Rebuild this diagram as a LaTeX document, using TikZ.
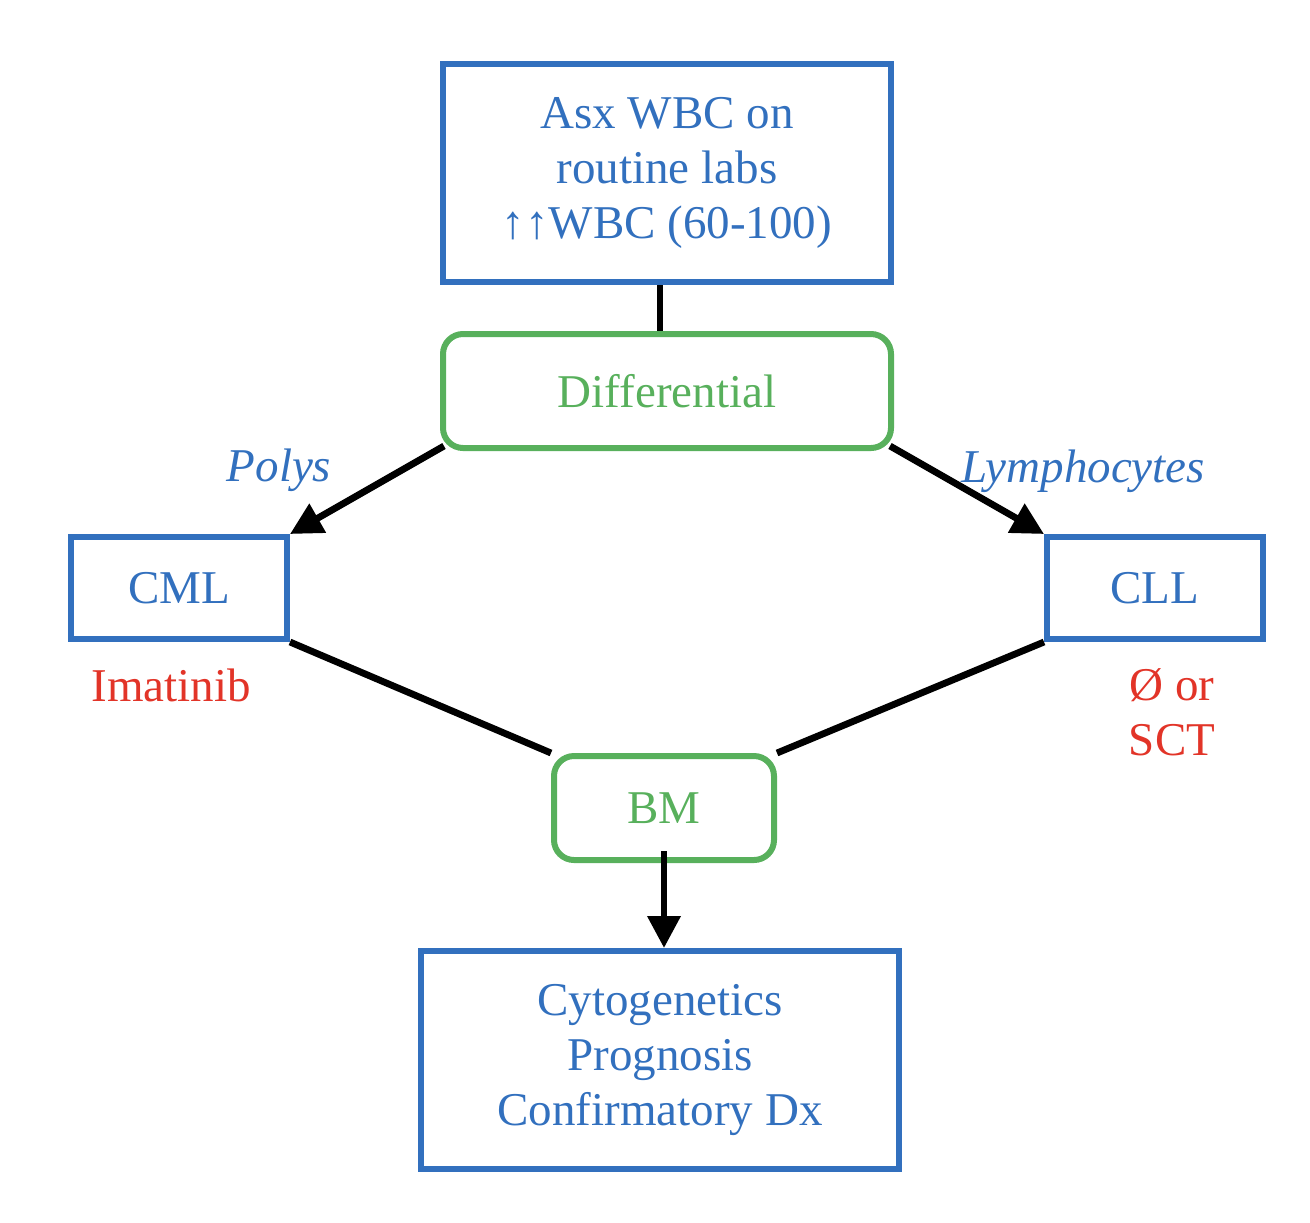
\documentclass[tikz,border=0pt]{standalone}
\usepackage{fontspec}
\setmainfont{Liberation Serif}
\usetikzlibrary{arrows.meta}

\definecolor{boxblue}{RGB}{50,112,190}
\definecolor{boxgreen}{RGB}{88,176,92}
\definecolor{txtred}{RGB}{226,52,40}

\begin{document}
\begin{tikzpicture}[x=0.5pt, y=-0.5pt, line width=3pt,
	bluebox/.style={draw=boxblue, text=boxblue, align=center, inner sep=0pt},
	greenbox/.style={draw=boxgreen, text=boxgreen, rounded corners=10pt, align=center, inner sep=0pt},
	lbl/.style={text=boxblue, font=\itshape\fontsize{23.5}{27.5}\selectfont},
	note/.style={text=txtred, align=center},
	every node/.style={font=\fontsize{23.5}{27.5}\selectfont},
	link/.style={line width=3.4pt},
	arr/.style={link, -{Triangle[length=16pt,width=16pt]}}]
\useasboundingbox (0,0) rectangle (1310,1222);

\node[bluebox, minimum width=224pt, minimum height=109pt] (labs) at (667,173) {Asx WBC on\\routine labs\\↑↑WBC (60-100)};
\node[greenbox, minimum width=224pt, minimum height=57pt] (diff) at (667,391) {Differential};
\node[bluebox, minimum width=108pt, minimum height=51pt] (cml) at (179,588) {CML};
\node[bluebox, minimum width=108pt, minimum height=51pt] (cll) at (1155,588) {CLL};
\node[greenbox, minimum width=110pt, minimum height=52pt] (bm) at (664,808) {BM};
\node[bluebox, minimum width=239pt, minimum height=109pt] (dx) at (660,1060) {Cytogenetics\\Prognosis\\Confirmatory Dx};

\node[lbl] (polys) at (279,470) {Polys};
\node[lbl] (lymph) at (1083,471) {Lymphocytes};
\node[note] (imat) at (171,685) {Imatinib};
\node[note] (sct) at (1172,712) {Ø or\\SCT};

\draw[link] ([xshift=-3.5pt]labs.south) -- ([xshift=-3.5pt]diff.north);
\draw[arr] ([shift={(2pt,2.5pt)}]diff.south west) -- (cml.north east);
\draw[arr] ([shift={(-2pt,2.5pt)}]diff.south east) -- (cll.north west);
\draw[link] (cml.south east) -- (bm.north west);
\draw[link] (cll.south west) -- (bm.north east);
\draw[arr] ([yshift=6pt]bm.south) -- (bm.south |- dx.north);

\end{tikzpicture}
\end{document}
